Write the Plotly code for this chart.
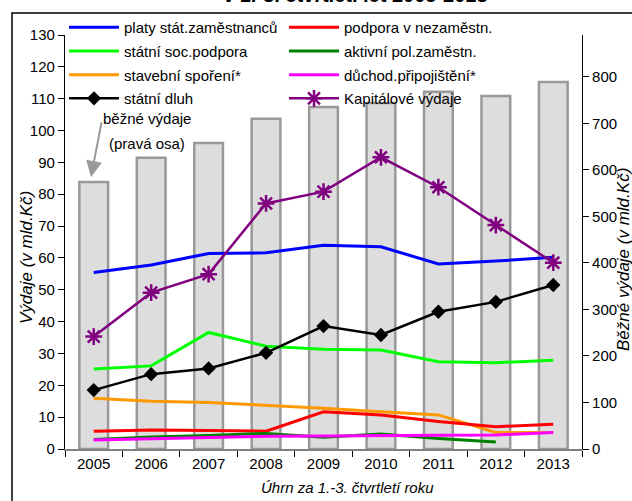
import plotly.graph_objects as go

years = ["2005", "2006", "2007", "2008", "2009", "2010", "2011", "2012", "2013"]

bezne_vydaje = [574, 626, 658, 710, 735, 744, 768, 759, 789]

platy = [55.4, 57.8, 61.4, 61.6, 64.0, 63.5, 58.1, 59.0, 60.2]
podpora_nezam = [5.6, 6.0, 5.8, 5.6, 11.7, 10.7, 8.6, 7.0, 7.8]
soc_podpora = [25.1, 26.1, 36.6, 32.3, 31.3, 31.1, 27.4, 27.1, 27.9]
aktivni_pol = [3.0, 3.8, 4.2, 4.9, 3.7, 4.7, 3.3, 2.2, None]
stavebni = [15.9, 15.0, 14.6, 13.8, 12.8, 11.7, 10.7, 5.2, 5.2]
duchod = [2.8, 3.2, 3.6, 4.0, 4.1, 4.3, 4.3, 4.4, 5.2]
dluh = [18.5, 23.5, 25.3, 30.2, 38.6, 35.8, 43.1, 46.2, 51.5]
kapitalove = [35.3, 49.1, 54.9, 77.1, 80.8, 91.6, 82.2, 70.3, 58.5]

FONT = "Liberation Sans, Arial, sans-serif"

fig = go.Figure()

# bars on primary y (right side) so that lines (on y2) are drawn above them
fig.add_trace(go.Bar(
    x=years, y=bezne_vydaje, yaxis="y", showlegend=False,
    marker=dict(color="#DDDDDD", line=dict(color="#999999", width=2.5)),
    width=0.5, name="běžné výdaje"))

def line(y, name, color, legend, width=3, marker=None):
    kw = dict(x=years, y=y, name=name, yaxis="y2", legend=legend,
              legendgroup=name, line=dict(color=color, width=width))
    if marker:
        kw["mode"] = "lines+markers"
        kw["marker"] = marker
    else:
        kw["mode"] = "lines"
    fig.add_trace(go.Scatter(**kw))

line(platy, "platy stát.zaměstnanců", "#0000FF", "legend")
line(soc_podpora, "státní soc.podpora", "#00FF00", "legend")
line(stavebni, "stavební spoření*", "#FF9900", "legend")
line(dluh, "státní dluh", "#000000", "legend", width=2.5,
     marker=dict(symbol="diamond", size=11, color="#000000"))
line(podpora_nezam, "podpora v nezaměstn.", "#FF0000", "legend2")
line(aktivni_pol, "aktivní pol.zaměstn.", "#008000", "legend2")
line(duchod, "důchod.připojištění*", "#FF00FF", "legend2")
line(kapitalove, "Kapitálové výdaje", "#800080", "legend2", width=2.5,
     marker=dict(symbol="asterisk-open", size=14, color="#800080",
                 line=dict(color="#800080", width=2.5)))

L, R, T, B = 65, 50, 35, 52
W, H = 632, 501
pw = W - L - R
ph = H - T - B

def px(x):
    return (x - L) / pw

def py(y):
    return (H - B - y) / ph

leg_common = dict(orientation="v", xanchor="left", yanchor="top",
                  bgcolor="rgba(0,0,0,0)", itemwidth=50, font=dict(size=15),
                  tracegroupgap=1.2, traceorder="grouped")

fig.update_layout(
    template="none",
    width=W, height=H,
    margin=dict(l=L, r=R, t=T, b=B, pad=0, autoexpand=False),
    paper_bgcolor="white", plot_bgcolor="white",
    font=dict(family=FONT, size=15, color="black"),
    xaxis=dict(type="category", range=[-0.5, 8.5], showgrid=False, showline=True,
               automargin=False, linecolor="#808080", linewidth=1.5, zeroline=False,
               ticks="outside", tickson="boundaries", ticklen=6,
               tickcolor="#000000", tickfont=dict(size=15)),
    yaxis=dict(side="right", range=[0, 890],
               tickvals=[0, 100, 200, 300, 400, 500, 600, 700, 800],
               showgrid=False, zeroline=False, showline=True, linecolor="black",
               linewidth=1.2, ticks="outside", ticklen=6, tickcolor="black",
               tickfont=dict(size=15), automargin=False),
    yaxis2=dict(side="left", overlaying="y", range=[0, 130], dtick=10,
                showgrid=False, zeroline=False, showline=True, linecolor="black",
                linewidth=1.2, ticks="outside", ticklen=6, tickcolor="black",
                tickfont=dict(size=15), automargin=False),
    legend=dict(x=px(64), y=py(11), **leg_common),
    legend2=dict(x=px(284), y=py(11), **leg_common),
    showlegend=True,
)

annotations = [
    dict(text="<b>v 1.-3. čtvrtletí let 2005-2013</b>", x=px(355), y=py(8),
         xref="paper", yref="paper", xanchor="center", yanchor="bottom",
         showarrow=False, font=dict(size=20)),
    dict(text="běžné výdaje", x=px(147), y=py(118), xref="paper", yref="paper",
         xanchor="center", yanchor="middle", showarrow=False, font=dict(size=15)),
    dict(text="(pravá osa)", x=px(146.5), y=py(143), xref="paper", yref="paper",
         xanchor="center", yanchor="middle", showarrow=False, font=dict(size=15)),
    dict(text=" ", x=px(91), y=py(177), xref="paper", yref="paper",
         showarrow=True, ax=11, ay=-57, arrowcolor="#999999", arrowwidth=2,
         arrowhead=2, arrowsize=1.6, font=dict(size=2)),
    dict(text="<i>Výdaje (v mld.Kč)</i>", x=px(26), y=py(258), xref="paper", yref="paper",
         textangle=-90, xanchor="center", yanchor="middle", showarrow=False,
         font=dict(size=17)),
    dict(text="<i>Běžné výdaje (v mld.Kč)</i>", x=px(623), y=py(260), xref="paper",
         yref="paper", textangle=-90, xanchor="center", yanchor="middle",
         showarrow=False, font=dict(size=17)),
    dict(text="<i>Úhrn za 1.-3. čtvrtletí roku</i>", x=px(347), y=py(487), xref="paper",
         yref="paper", xanchor="center", yanchor="middle", showarrow=False,
         font=dict(size=15)),
]
fig.update_layout(annotations=annotations)

fig.add_shape(type="rect", xref="paper", yref="paper",
              x0=px(12), y0=py(560), x1=px(700), y1=py(13),
              line=dict(color="black", width=1.5), fillcolor="rgba(0,0,0,0)",
              layer="below")

fig.write_html(
    "out.html",
    config={"displayModeBar": False},
    post_script="document.body.style.margin='0px';document.body.style.overflow='hidden';",
)
